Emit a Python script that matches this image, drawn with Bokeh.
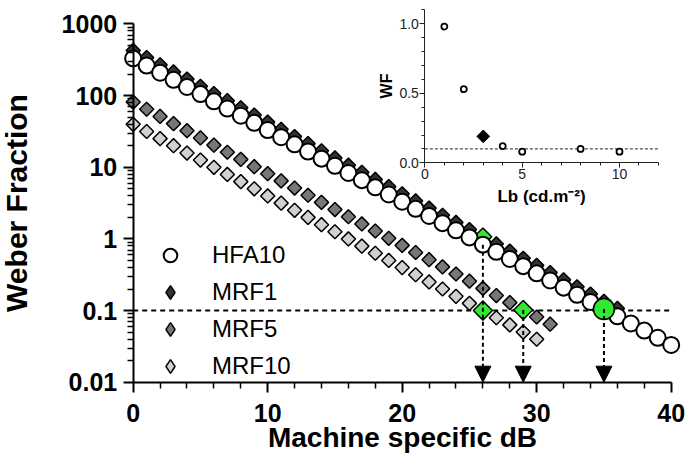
import math
from bokeh.plotting import figure
from bokeh.models import (Range1d, LinearAxis, LinearScale, FixedTicker, CustomJSTickFormatter,
                          Legend, LegendItem, Arrow, NormalHead, ColumnDataSource)
from bokeh.embed import file_html
from bokeh.resources import INLINE

# ---------------- data ----------------
hfa10_db = list(range(41))
hfa10 = [331, 263, 209, 166, 132, 105, 83.2, 66.1, 52.5, 41.7, 33.1, 26.3, 20.9, 16.6,
         13.2, 10.5, 8.32, 6.61, 5.25, 4.17, 3.31, 2.63, 2.09, 1.66, 1.32, 1.05, 0.832,
         0.661, 0.525, 0.417, 0.331, 0.263, 0.209, 0.166, 0.132, 0.105, 0.0832, 0.0661,
         0.0525, 0.0417, 0.0331]
mrf1_db = list(range(37))
mrf1 = [427, 339, 269, 214, 170, 135, 107, 85.1, 67.6, 53.7, 42.7, 33.9, 26.9, 21.4,
        17.0, 13.5, 10.7, 8.51, 6.76, 5.37, 4.27, 3.39, 2.69, 2.14, 1.70, 1.35, 1.07,
        0.851, 0.676, 0.537, 0.427, 0.339, 0.269, 0.214, 0.170, 0.135, 0.107]
mrf5_db = list(range(32))
mrf5 = [81.3, 64.6, 51.3, 40.7, 32.4, 25.7, 20.4, 16.2, 12.9, 10.2, 8.13, 6.46, 5.13,
        4.07, 3.24, 2.57, 2.04, 1.62, 1.29, 1.02, 0.813, 0.646, 0.513, 0.407, 0.324,
        0.257, 0.204, 0.162, 0.129, 0.102, 0.0813, 0.0646]
mrf10_db = list(range(31))
mrf10 = [39.8, 31.6, 25.1, 20.0, 15.8, 12.6, 10.0, 7.94, 6.31, 5.01, 3.98, 3.16, 2.51,
         2.00, 1.58, 1.26, 1.00, 0.794, 0.631, 0.501, 0.398, 0.316, 0.251, 0.200, 0.158,
         0.126, 0.100, 0.0794, 0.0631, 0.0501, 0.0398]

criterion_wf = 0.1
db_limits = [0, 40]
wf_limits = [0.01, 1000]

# highlighted points (indices into the series) and arrows to the dB axis
hl_mrf1_idx = [26]
hl_mrf10_idx = [26]
hl_mrf5_idx = [29]
hl_hfa10_idx = [35]
arrow_db = [26, 29, 35]

wf_ticks = [0.01, 0.1, 1, 10, 100, 1000]
wf_minor = [m * d for d in [0.01, 0.1, 1, 10, 100] for m in [2, 3, 4, 5, 6, 7, 8, 9]]
db_ticks = [0, 10, 20, 30, 40]
db_minor = [2, 4, 6, 8, 12, 14, 16, 18, 22, 24, 26, 28, 32, 34, 36, 38]

# inset
lb_circ = [1, 2, 4, 5, 8, 10]
wf_circ = [0.98, 0.53, 0.12, 0.08, 0.10, 0.08]
lb_mrf = [3]
wf_mrf = [0.19]
lb_limits = [0, 12]
iwf_limits = [0, 1.1]
lb_ticks = [0, 5, 10]
lb_minor = [1, 2, 3, 4, 6, 7, 8, 9, 11, 12]
iwf_ticks = [0.0, 0.5, 1.0]
iwf_minor = [0.1, 0.2, 0.3, 0.4, 0.6, 0.7, 0.8, 0.9, 1.1]

FONT = "Liberation Sans"
GREEN = "#33e833"
C_MRF1, C_MRF5, C_MRF10 = "#333333", "#777777", "#d0d0d0"

# ---------------- figure ----------------
W, H = 686, 467
p = figure(width=W, height=H, output_backend="svg", toolbar_location=None,
           x_range=Range1d(-9.866, 41.138), y_range=Range1d(0.000645, 2128),
           y_axis_type="log", min_border=0, min_border_left=0, min_border_right=0,
           min_border_top=0, min_border_bottom=0, outline_line_color=None,
           background_fill_color="white", border_fill_color="white")
p.xgrid.visible = False
p.ygrid.visible = False

# main axes
ya = p.yaxis[0]
ya.fixed_location = 0
ya.bounds = tuple(wf_limits)
ya.ticker = FixedTicker(ticks=wf_ticks, minor_ticks=wf_minor)
ya.formatter = CustomJSTickFormatter(code="return tick.toString()")
ya.axis_label = "Weber Fraction"

xa = p.xaxis[0]
xa.fixed_location = wf_limits[0]
xa.bounds = tuple(db_limits)
xa.ticker = FixedTicker(ticks=db_ticks, minor_ticks=db_minor)
xa.axis_label = "Machine specific dB"

for ax in (ya, xa):
    ax.axis_line_width = 2
    ax.axis_line_color = "black"
    ax.major_tick_line_width = 2
    ax.minor_tick_line_width = 1.5
    ax.major_tick_line_color = "black"
    ax.minor_tick_line_color = "black"
    ax.major_tick_in = 0
    ax.minor_tick_in = 0
    ax.major_tick_out = 10
    ax.minor_tick_out = 6
    ax.major_label_text_font = FONT
    ax.major_label_text_font_style = "bold"
    ax.major_label_text_font_size = "25px"
    ax.major_label_text_color = "black"
    ax.axis_label_text_font = FONT
    ax.axis_label_text_font_style = "bold"
    ax.axis_label_text_color = "black"
ya.major_label_standoff = 6
ya.axis_label_text_font_size = "30px"
ya.axis_label_standoff = 26
xa.major_label_standoff = 12
xa.axis_label_text_font_size = "28px"
xa.axis_label_standoff = -4

# criterion line
p.line(x=db_limits, y=[criterion_wf, criterion_wf], line_color="black",
       line_width=2, line_dash="5 4")

# series
r_mrf10 = p.scatter(mrf10_db, mrf10, marker="square", angle=math.pi / 4, size=10,
                    fill_color=C_MRF10, line_color="black", line_width=1.5)
r_mrf5 = p.scatter(mrf5_db, mrf5, marker="square", angle=math.pi / 4, size=10,
                   fill_color=C_MRF5, line_color="black", line_width=1.5)
r_mrf1 = p.scatter(mrf1_db, mrf1, marker="square", angle=math.pi / 4, size=10,
                   fill_color=C_MRF1, line_color="black", line_width=1.5)
p.scatter([mrf1_db[i] for i in hl_mrf1_idx], [mrf1[i] for i in hl_mrf1_idx],
          marker="square", angle=math.pi / 4, size=12.5, fill_color=GREEN,
          line_color="black", line_width=1.5)
r_hfa = p.scatter(hfa10_db, hfa10, marker="circle", size=16, fill_color="white",
                  line_color="black", line_width=2)
p.scatter([hfa10_db[i] for i in hl_hfa10_idx], [hfa10[i] for i in hl_hfa10_idx],
          marker="circle", size=21, fill_color=GREEN, line_color="black", line_width=1.5)
p.scatter([mrf10_db[i] for i in hl_mrf10_idx] + [mrf5_db[i] for i in hl_mrf5_idx],
          [mrf10[i] for i in hl_mrf10_idx] + [mrf5[i] for i in hl_mrf5_idx],
          marker="square", angle=math.pi / 4, size=13.5, fill_color=GREEN,
          line_color="black", line_width=1.5)

# arrows down to the dB axis
arrow_start = [hfa10[hfa10_db.index(26)], mrf5[mrf5_db.index(29)], hfa10[hfa10_db.index(35)]]
asrc = ColumnDataSource(dict(x=arrow_db, y0=arrow_start, y1=[wf_limits[0]] * 3))
p.add_layout(Arrow(source=asrc, x_start="x", y_start="y0", x_end="x", y_end="y1",
                   line_color="black", line_width=2, line_dash="4 3",
                   end=NormalHead(size=16, fill_color="black", line_color="black",
                                  line_width=1)))

# legend keys: diamond-shaped copies of the series, hidden on the plot itself
lg_mrf1 = p.scatter(mrf1_db, mrf1, marker="diamond", fill_color=C_MRF1,
                    line_color="black", line_width=1.5, visible=False)
lg_mrf5 = p.scatter(mrf5_db, mrf5, marker="diamond", fill_color=C_MRF5,
                    line_color="black", line_width=1.5, visible=False)
lg_mrf10 = p.scatter(mrf10_db, mrf10, marker="diamond", fill_color=C_MRF10,
                     line_color="black", line_width=1.5, visible=False)
legend = Legend(items=[LegendItem(label="HFA10", renderers=[r_hfa]),
                       LegendItem(label="MRF1", renderers=[lg_mrf1]),
                       LegendItem(label="MRF5", renderers=[lg_mrf5]),
                       LegendItem(label="MRF10", renderers=[lg_mrf10])],
                location=(153, 84), border_line_color=None, background_fill_alpha=0,
                inactive_fill_alpha=0,
                label_text_font=FONT, label_text_font_size="24px",
                label_text_color="black", glyph_width=34, glyph_height=34,
                label_height=34, spacing=3, padding=0, margin=0, label_standoff=25)
p.add_layout(legend)

# ---------------- inset ----------------
p.extra_x_ranges = {"ix": Range1d(-21.809, 13.443)}
p.extra_y_ranges = {"iy": Range1d(-2.192, 1.1676)}
p.extra_x_scales = {"ix": LinearScale()}
p.extra_y_scales = {"iy": LinearScale()}

iya = LinearAxis(x_range_name="ix", y_range_name="iy", fixed_location=lb_limits[0],
                 bounds=tuple(iwf_limits),
                 ticker=FixedTicker(ticks=iwf_ticks, minor_ticks=iwf_minor),
                 formatter=CustomJSTickFormatter(code="return tick.toFixed(1)"),
                 axis_label="WF")
ixa = LinearAxis(x_range_name="ix", y_range_name="iy", fixed_location=iwf_limits[0],
                 bounds=tuple(lb_limits),
                 ticker=FixedTicker(ticks=lb_ticks, minor_ticks=lb_minor),
                 axis_label="Lb (cd.m\u207b\u00b2)")
for ax in (iya, ixa):
    ax.axis_line_width = 1
    ax.axis_line_color = "#222222"
    ax.major_tick_line_color = "#222222"
    ax.minor_tick_line_color = "#222222"
    ax.major_tick_in = 0
    ax.minor_tick_in = 0
    ax.major_tick_out = 5
    ax.minor_tick_out = 3
    ax.major_label_text_font = FONT
    ax.major_label_text_font_size = "14px"
    ax.major_label_text_color = "#222222"
    ax.major_label_standoff = 1
    ax.axis_label_text_font = FONT
    ax.axis_label_text_font_style = "bold"
    ax.axis_label_text_color = "black"
iya.axis_label_text_font_size = "16px"
iya.axis_label_standoff = 1
ixa.axis_label_text_font_size = "17px"
ixa.axis_label_standoff = 5
p.add_layout(iya, "left")
p.add_layout(ixa, "below")

p.line(x=lb_limits, y=[criterion_wf, criterion_wf], x_range_name="ix", y_range_name="iy",
       line_color="#222222", line_width=1, line_dash="3 2")
p.scatter(lb_circ, wf_circ, x_range_name="ix", y_range_name="iy", marker="circle",
          size=6, fill_color="white", line_color="black", line_width=1.8)
p.scatter(lb_mrf, wf_mrf, x_range_name="ix", y_range_name="iy", marker="square",
          angle=math.pi / 4, size=9, fill_color="black", line_color="black", line_width=1)

open("out.html", "w").write(file_html(p, INLINE))
